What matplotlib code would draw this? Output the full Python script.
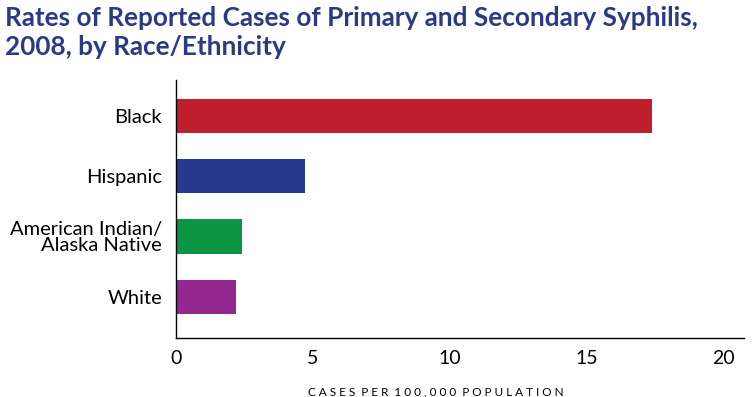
import matplotlib
matplotlib.use("Agg")
import matplotlib.pyplot as plt

categories = ["Black", "Hispanic", "American Indian/\nAlaska Native", "White"]
rates = [17.4, 4.7, 2.4, 2.2]
bar_colors = ["#BE1E2D", "#283A8E", "#0B9444", "#92278F"]
xticks = [0, 5, 10, 15, 20]

plt.rcParams["font.family"] = ["Lato", "DejaVu Sans"]

fig = plt.figure(figsize=(7.52, 3.97), dpi=100)
ax = fig.add_axes([0.234, 0.149, 0.755, 0.649])

ypos = list(range(len(categories)))
ax.barh(ypos, rates, height=0.57, color=bar_colors)
ax.set_ylim(len(categories) - 1 + 0.68, -0.59)
ax.set_xlim(0, 20.75)
ax.set_yticks(ypos)
ax.set_yticklabels(categories, fontsize=14.5, linespacing=0.95)
ax.set_xticks(xticks)
ax.set_xticklabels([str(t) for t in xticks], fontsize=14)
ax.tick_params(axis="y", length=0, pad=10)
ax.tick_params(axis="x", length=0, pad=9)
for side in ["top", "right"]:
    ax.spines[side].set_visible(False)
for side in ["left", "bottom"]:
    ax.spines[side].set_linewidth(1.0)

ax.set_xlabel("C A S E S  P E R  1 0 0 , 0 0 0  P O P U L A T I O N", fontsize=8.5)
ax.xaxis.set_label_coords(0.458, -0.19)

fig.text(0.007, 0.985,
         "Rates of Reported Cases of Primary and Secondary Syphilis,\n2008, by Race/Ethnicity",
         ha="left", va="top", fontsize=18.8, fontweight="bold", color="#2B3A86",
         linespacing=1.25)

fig.savefig("out.png", dpi=100)
